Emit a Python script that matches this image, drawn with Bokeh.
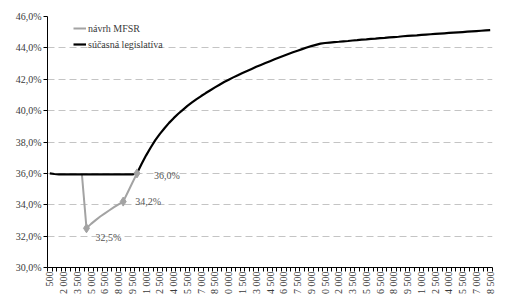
import math
from bokeh.plotting import figure
from bokeh.models import FixedTicker, Range1d, Legend, LegendItem
from bokeh.embed import file_html
from bokeh.resources import INLINE
from bokeh.core.properties import value

# ---- data ----
incomes = list(range(500, 48501, 500))  # categories (step 500)

current_law = [
    36.00, 35.96,
    35.94, 35.94, 35.94, 35.94, 35.94, 35.94, 35.94, 35.94, 35.94,
    35.94, 35.94, 35.94, 35.94, 35.94, 35.94, 35.94, 35.94,
    36.00, 36.60, 37.15, 37.65, 38.12, 38.52, 38.88, 39.22, 39.52, 39.80,
    40.05, 40.30, 40.52, 40.73, 40.93, 41.12, 41.30, 41.48, 41.65, 41.82,
    41.97, 42.12, 42.26, 42.40, 42.53, 42.66, 42.79, 42.91, 43.03, 43.15,
    43.27, 43.39, 43.50, 43.61, 43.72, 43.82, 43.92, 44.02, 44.11, 44.19,
    44.27, 44.31,
    44.34, 44.37, 44.39, 44.42, 44.44, 44.47, 44.49, 44.52, 44.54, 44.57,
    44.59, 44.62, 44.64, 44.67, 44.69, 44.71, 44.74, 44.76, 44.78, 44.80,
    44.83, 44.85, 44.87, 44.89, 44.91, 44.93, 44.95, 44.97, 44.99, 45.01,
    45.03, 45.05, 45.07, 45.09, 45.11, 45.13,
]

mfsr_incomes = [4000, 4500, 5000, 5500, 6000, 6500, 7000, 7500, 8000, 8500, 9000, 9500, 10000]
mfsr_rates = [35.94, 32.50, 32.78, 33.02, 33.25, 33.45, 33.65, 33.85, 34.03, 34.20, 34.80, 35.40, 36.00]

point_incomes = [4500, 8500, 10000]
point_rates = [32.5, 34.2, 36.0]
point_texts = ["32,5%", "34,2%", "36,0%"]

x_tick_values = incomes[::3]
x_tick_labels = ["500", "2 000", "3 500", "5 000", "6 500", "8 000", "9 500",
                 "1 000", "2 500", "4 000", "5 500", "7 000", "8 500", "0 000",
                 "1 500", "3 000", "4 500", "6 000", "7 500", "9 000", "0 500",
                 "2 000", "3 500", "5 000", "6 500", "8 000", "9 500", "1 000",
                 "2 500", "4 000", "5 500", "7 000", "8 500"]

y_tick_values = [30, 32, 34, 36, 38, 40, 42, 44, 46]
y_tick_labels = ["30,0%", "32,0%", "34,0%", "36,0%", "38,0%", "40,0%", "42,0%", "44,0%", "46,0%"]

series_names = ["návrh MFSR", "súčasná legislatíva"]

# ---- styles ----
FONT = "Liberation Serif"
TEXT_COLOR = "#3a3a3a"
GRAY = "#a3a3a3"
label_offsets = [(9, 9), (12, 0), (17, 2)]

half = (incomes[1] - incomes[0]) / 2
boundaries = [v - half for v in incomes] + [incomes[-1] + half]

p = figure(width=505, height=297, output_backend="svg", toolbar_location=None,
           x_range=Range1d(incomes[0] - half, incomes[-1] + half),
           y_range=Range1d(y_tick_values[0], y_tick_values[-1]),
           min_border_left=47, min_border_right=13, min_border_top=16, min_border_bottom=30)
p.outline_line_color = None
p.background_fill_color = "white"
p.border_fill_color = "white"

# axes
xa = p.xaxis[0]
xa.ticker = FixedTicker(ticks=x_tick_values, minor_ticks=boundaries)
xa.major_label_overrides = {v: t for v, t in zip(x_tick_values, x_tick_labels)}
xa.major_label_orientation = math.pi / 2
xa.major_tick_line_color = None
xa.major_tick_out = 4
xa.major_tick_in = 0
xa.minor_tick_out = 4
xa.minor_tick_in = 0
xa.minor_tick_line_color = "black"
xa.axis_line_color = "black"
xa.major_label_standoff = 0
xa.major_label_text_font = FONT
xa.major_label_text_font_size = "10px"
xa.major_label_text_color = TEXT_COLOR

ya = p.yaxis[0]
ya.ticker = FixedTicker(ticks=y_tick_values, minor_ticks=[])
ya.major_label_overrides = {v: t for v, t in zip(y_tick_values, y_tick_labels)}
ya.major_tick_out = 4
ya.major_tick_in = 0
ya.major_tick_line_color = "black"
ya.axis_line_color = "black"
ya.major_label_standoff = 2
ya.major_label_text_font = FONT
ya.major_label_text_font_size = "10px"
ya.major_label_text_color = TEXT_COLOR

p.xgrid.visible = False
p.ygrid.ticker = FixedTicker(ticks=y_tick_values)
p.ygrid.grid_line_color = "#c4c4c4"
p.ygrid.grid_line_dash = "7 4"
p.ygrid.grid_line_width = 1

# series
gray_line = p.line(mfsr_incomes, mfsr_rates, line_color=GRAY, line_width=2)
black_line = p.line(incomes, current_law, line_color="black", line_width=2.2)
p.scatter(point_incomes, point_rates, marker="diamond", size=9, color=GRAY)

for inc, rate, txt, (dx, dy) in zip(point_incomes, point_rates, point_texts, label_offsets):
    p.text(x=[inc], y=[rate], text=[txt], x_offset=dx, y_offset=dy,
           text_align="left", text_baseline="middle",
           text_font=value(FONT), text_font_size="10px", text_color="#555555")

legend = Legend(items=[LegendItem(label=series_names[0], renderers=[gray_line]),
                       LegendItem(label=series_names[1], renderers=[black_line])],
                location=(26, 216))
legend.padding = 0
legend.margin = 0
legend.spacing = 2
legend.glyph_width = 13
legend.glyph_height = 14
legend.label_height = 14
legend.label_standoff = 2
legend.border_line_color = None
legend.background_fill_alpha = 0
legend.label_text_font = FONT
legend.label_text_font_size = "10px"
legend.label_text_color = TEXT_COLOR
p.add_layout(legend)

open("out.html", "w").write(file_html(p, INLINE))
